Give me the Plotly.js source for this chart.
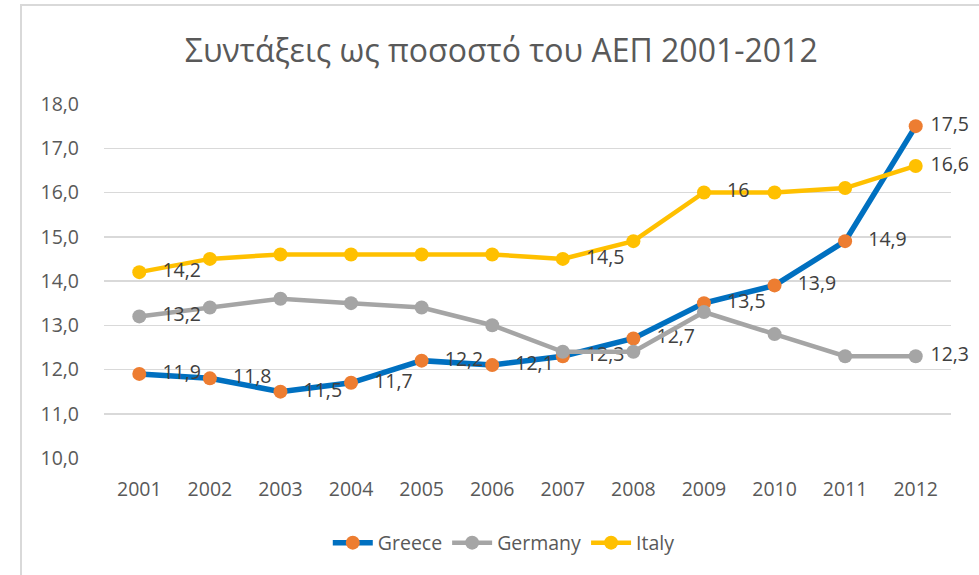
<!DOCTYPE html>
<html>
<head>
<meta charset="utf-8">
<script src="https://cdn.plot.ly/plotly-3.0.1.min.js"></script>
<style>
  html, body { margin: 0; padding: 0; background: #fff; }
  #chart { position: absolute; left: 0; top: 0; width: 979px; height: 575px; }
  #frame { position: absolute; left: 20px; top: 4px; width: 980px; height: 600px;
           border-left: 2px solid #d9d9d9; border-top: 2px solid #d9d9d9; pointer-events: none; }
</style>
</head>
<body>
<div id="chart"></div>
<div id="frame"></div>
<script>
const years = ['2001','2002','2003','2004','2005','2006','2007','2008','2009','2010','2011','2012'];
const greece  = [11.9, 11.8, 11.5, 11.7, 12.2, 12.1, 12.3, 12.7, 13.5, 13.9, 14.9, 17.5];
const germany = [13.2, 13.4, 13.6, 13.5, 13.4, 13.0, 12.4, 12.4, 13.3, 12.8, 12.3, 12.3];
const italy   = [14.2, 14.5, 14.6, 14.6, 14.6, 14.6, 14.5, 14.9, 16.0, 16.0, 16.1, 16.6];
const greeceLabels  = ['11,9','11,8','11,5','11,7','12,2','12,1','12,3','12,7','13,5','13,9','14,9','17,5'];
const germanyLabels = ['13,2','','','','','','','','','','','12,3'];
const italyLabels   = ['14,2','','','','','','14,5','','16','','','16,6'];

const FONT = 'Open Sans, Noto Sans, sans-serif';
const labelFont = {family: FONT, size: 19.5, color: '#404040'};

function pad(labels) {
  // wider gap for inner points, narrower for the last year (as in the reference)
  return labels.map((t, i) => !t ? '' :
    (i === labels.length - 1 ? '\u00a0' + t : '\u00a0\u00a0\u2009' + t));
}

function trace(name, y, labels, lineColor, markerColor, width) {
  return {
    type: 'scatter', mode: 'lines+markers+text', name: name,
    x: years, y: y, text: pad(labels),
    textposition: 'middle right', textfont: labelFont,
    line: {color: lineColor, width: width},
    marker: {color: markerColor, size: 14},
    cliponaxis: false
  };
}

const data = [
  trace('Greece', greece, greeceLabels, '#0070C0', '#ED7D31', 5.5),
  trace('Germany', germany, germanyLabels, '#A5A5A5', '#A5A5A5', 4.5),
  trace('Italy', italy, italyLabels, '#FFC000', '#FFC000', 4.5)
];

const layout = {
  width: 979, height: 575,
  margin: {l: 104, r: 28, t: 104, b: 117},
  paper_bgcolor: '#ffffff', plot_bgcolor: '#ffffff',
  separators: ',.',
  font: {family: FONT, color: '#595959'},
  title: {
    text: 'Συντάξεις ως ποσοστό του ΑΕΠ 2001-2012',
    font: {family: FONT, size: 32, color: '#595959'},
    x: 0.512, xanchor: 'center', y: 0.912, yanchor: 'middle'
  },
  xaxis: {
    type: 'category', range: [-0.5, 11.5], autorange: false,
    showgrid: false, zeroline: false, showline: false,
    ticks: '', tickfont: {size: 19.5, color: '#595959'}, ticklabelstandoff: 17
  },
  yaxis: {
    range: [10, 18], autorange: false, dtick: 1, tickformat: '.1f',
    showgrid: true, gridcolor: '#d9d9d9', gridwidth: 1.5,
    zeroline: false, showline: false, ticks: '',
    tickfont: {size: 19.5, color: '#595959'}, ticklabelstandoff: 24
  },
  showlegend: true,
  legend: {
    orientation: 'h', x: 0.472, xanchor: 'center', y: -0.24, yanchor: 'middle',
    font: {size: 19.5, color: '#595959'}, itemwidth: 40, tracegroupgap: 0
  }
};

Plotly.newPlot('chart', data, layout, {displayModeBar: false, staticPlot: true});
</script>
</body>
</html>
